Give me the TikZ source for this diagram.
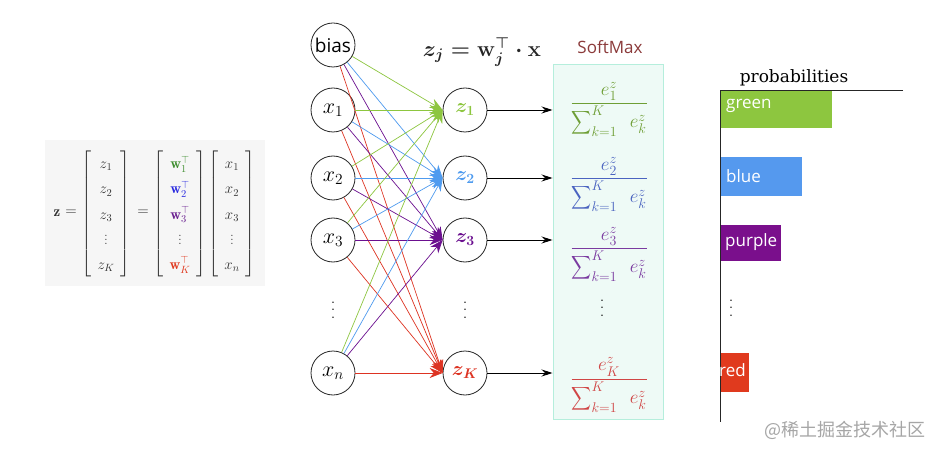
\RequirePackage{fix-cm}
\documentclass[tikz,border=0pt]{standalone}
\usepackage{amsmath,amssymb}
\usepackage{graphicx}
\usepackage{fontspec}
\usetikzlibrary{arrows.meta}
\DeclareMathSizes{19}{19}{14}{10}
\newfontfamily\barfont{Open Sans}
\newfontfamily\titlefont{DejaVu Serif}
\newfontfamily\cjkfont{Noto Sans CJK SC}
\newcommand{\bigvd}{\vbox{\baselineskip=7.5pt\lineskiplimit=0pt\hbox{.}\hbox{.}\hbox{.}}}
\newcommand{\bigsumk}{\mathop{\vcenter{\hbox{\resizebox{20pt}{17pt}{$\displaystyle\sum$}}}}\nolimits_{k=1}^{K}}
\definecolor{lg}{HTML}{8DC63F}
\definecolor{lb}{HTML}{4F9BEF}
\definecolor{lp}{HTML}{6B0F8F}
\definecolor{lr}{HTML}{DD3322}
\definecolor{fg}{HTML}{6E9E35}
\definecolor{fb}{HTML}{4A63C0}
\definecolor{fp}{HTML}{7A3AA0}
\definecolor{fr}{HTML}{D04545}
\definecolor{mg}{HTML}{3E8E2E}
\definecolor{mb}{HTML}{2A2AE0}
\definecolor{mp}{HTML}{6A2090}
\definecolor{mr}{HTML}{E03A20}
\definecolor{smfill}{HTML}{EEFAF6}
\definecolor{smline}{HTML}{B5EEDC}
\definecolor{smtitle}{HTML}{8B3A3A}
\definecolor{bg}{HTML}{8DC63F}
\definecolor{bb}{HTML}{5599EE}
\definecolor{bp}{HTML}{7A0F8C}
\definecolor{br}{HTML}{E03A1E}
\definecolor{panel}{HTML}{F6F6F6}
\begin{document}
\begin{tikzpicture}[x=1pt,y=-1pt,
  neuron/.style={circle,draw=black!85,line width=0.8pt,minimum size=44pt,inner sep=0pt,font=\fontsize{22}{26}\selectfont},
  zneuron/.style={neuron,font=\fontsize{20}{24}\selectfont},
  wire/.style={line width=0.7pt,-{Stealth[length=13pt,width=10pt]}},
  outarrow/.style={line width=0.8pt,-{Stealth[length=11pt,width=7pt]}},
  frac/.style={anchor=base,font=\fontsize{19}{23}\selectfont},
  bar/.style={anchor=west,inner sep=0pt,text=white,font=\barfont\fontsize{17}{20}\selectfont,align=left},
  dotsn/.style={font=\fontsize{18}{20}\selectfont,inner sep=0pt},
  mat/.style={inner sep=0pt,text=black!80,font=\fontsize{15}{18}\selectfont}
]
\useasboundingbox[fill=white] (0,0) rectangle (941,454);

% left panel
\fill[panel] (45,140) rectangle (265,286);
\node[mat] (mz) at (57,213) {$\mathbf{z}$};
\node[mat] (meq1) at (71,213) {$=$};
\node[mat] (m1) at (106,214) {\renewcommand{\arraystretch}{1.4}\setlength{\arraycolsep}{6pt}$\left[\begin{array}{c} z_1\\ z_2\\ z_3\\ \vdots\\ z_K\end{array}\right]$};
\node[mat] (meq2) at (143,213) {$=$};
\node[mat] (m2) at (180,214) {\renewcommand{\arraystretch}{1.4}\setlength{\arraycolsep}{6pt}$\left[\begin{array}{c}\color{mg}\mathbf{w}_1^\top\\ \color{mb}\mathbf{w}_2^\top\\ \color{mp}\mathbf{w}_3^\top\\ \vdots\\ \color{mr}\mathbf{w}_K^\top\end{array}\right]$};
\node[mat] (m3) at (232,214) {\renewcommand{\arraystretch}{1.4}\setlength{\arraycolsep}{6pt}$\left[\begin{array}{c} x_1\\ x_2\\ x_3\\ \vdots\\ x_n\end{array}\right]$};

% input nodes
\node[neuron,font=\barfont\fontsize{19}{22}\selectfont] (bias) at (333,45) {bias};
\node[neuron] (x1) at (333,110) {$x_1$};
\node[neuron] (x2) at (333,178) {$x_2$};
\node[neuron] (x3) at (333,240) {$x_3$};
\node[dotsn] (xd) at (333,310) {\bigvd};
\node[neuron] (xn) at (333,373) {$x_n$};

% output nodes
\node[zneuron] (z1) at (465,110) {$\boldsymbol{\color{lg}z_1}$};
\node[zneuron] (z2) at (465,178) {$\boldsymbol{\color{lb}z_2}$};
\node[zneuron] (z3) at (465,240) {$\boldsymbol{\color{lp}z_3}$};
\node[dotsn] (zd) at (465,310) {\bigvd};
\node[zneuron] (zK) at (465,373) {$\boldsymbol{\color{lr}z_K}$};

\node[font=\fontsize{22}{26}\selectfont,text=black!85] (form) at (482,52) {$\boldsymbol{z_j = \mathbf{w}_j^\top \cdot \mathbf{x}}$};

% wires
\foreach \s in {bias,x1,x2,x3,xn}{
  \draw[wire,lr] (\s) -- (zK.west);
  \draw[wire,lp] (\s) -- (z3.west);
  \draw[wire,lb] (\s) -- (z2.west);
  \draw[wire,lg] (\s) -- (z1.west);
}

% softmax box
\node[draw=smline,fill=smfill,line width=1pt,minimum width=110pt,minimum height=355pt,inner sep=0pt] (sm) at (608,242) {};
\node[font=\barfont\fontsize{17}{20}\selectfont,text=smtitle] (smt) at (610,47) {SoftMax};

\node[frac,text=fg] (f1) at (609,108) {$\dfrac{e^{z}_{1}}{\bigsumk\enspace e^{z}_{k}}$};
\node[frac,text=fb] (f2) at (609,183) {$\dfrac{e^{z}_{2}}{\bigsumk\enspace e^{z}_{k}}$};
\node[frac,text=fp] (f3) at (609,253) {$\dfrac{e^{z}_{3}}{\bigsumk\enspace e^{z}_{k}}$};
\node[dotsn] (fd) at (602,308) {\bigvd};
\node[frac,text=fr] (fK) at (609,384) {$\dfrac{e^{z}_{K}}{\bigsumk\enspace e^{z}_{k}}$};

\draw[outarrow] (z1.east) -- (z1.east -| sm.west);
\draw[outarrow] (z2.east) -- (z2.east -| sm.west);
\draw[outarrow] (z3.east) -- (z3.east -| sm.west);
\draw[outarrow] (zK.east) -- (zK.east -| sm.west);

% probabilities chart
\node[font=\titlefont\fontsize{17}{20}\selectfont,anchor=base] (pt) at (794,83) {probabilities};
\coordinate (ax0) at (720,90);
\coordinate (ax1) at (903,90);
\coordinate (ax2) at (720,422);
\fill[bg] (720,90) rectangle (832,128);
\fill[bb] (720,157) rectangle (802,196);
\fill[bp] (720,225) rectangle (781,261);
\fill[br] (720,353) rectangle (749,392);
\draw[line width=0.9pt,black!85] (ax1) -- (ax0) -- (ax2);
\node[bar] (lgn) at (726,106) {green};
\node[bar] (lbl) at (726,176) {blue};
\node[bar] (lpu) at (725,242) {purple};
\node[bar] (lre) at (719,370) {red};
\node[dotsn] (pd) at (731,308) {\bigvd};

% watermark
\node[font=\cjkfont\fontsize{18}{21}\selectfont,text=black!35,anchor=east] (wm) at (929,430) {@稀土掘金技术社区};
\end{tikzpicture}
\end{document}
